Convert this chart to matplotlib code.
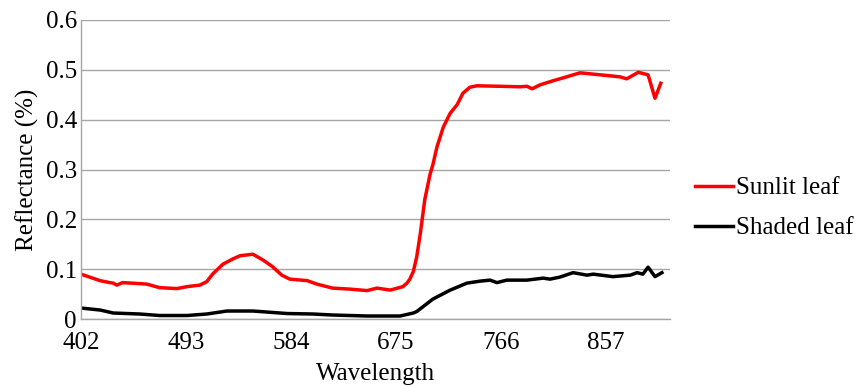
import matplotlib
matplotlib.use("Agg")
import matplotlib.pyplot as plt

sunlit_wl = [402, 418.5, 427, 430, 433, 438, 453, 459, 470, 485, 494, 505, 511, 516, 525,
             534, 540, 551, 560, 568, 576, 583, 598, 606.5, 620, 635, 650, 658.5, 670,
             681, 684.5, 687, 690, 693, 696, 700, 704.5, 707, 710.5, 716, 722, 728, 733,
             739, 745, 765, 782.5, 788.5, 793, 800, 811, 820, 834.5, 852, 869, 875, 885,
             893.5, 899.5, 904.5]
sunlit_val = [0.090, 0.077, 0.073, 0.072, 0.068, 0.073, 0.071, 0.070, 0.063, 0.061, 0.065,
              0.068, 0.075, 0.090, 0.110, 0.121, 0.127, 0.130, 0.118, 0.105, 0.088, 0.080,
              0.077, 0.070, 0.062, 0.060, 0.057, 0.062, 0.058, 0.065, 0.072, 0.080, 0.095,
              0.125, 0.170, 0.240, 0.290, 0.310, 0.345, 0.385, 0.413, 0.430, 0.453, 0.465,
              0.468, 0.467, 0.466, 0.467, 0.462, 0.470, 0.478, 0.484, 0.494, 0.490, 0.486,
              0.482, 0.495, 0.490, 0.443, 0.473]

shaded_wl = [402, 418.5, 430, 453, 470, 494, 511, 528.5, 551, 563, 580.5, 603, 620, 650,
             678.5, 690, 693, 707, 722, 736.5, 748, 756.5, 762.5, 771, 788.5, 802.5, 808.5,
             817, 828.5, 840.5, 846, 863, 878, 884, 889, 893.5, 899.5, 905.5]
shaded_val = [0.022, 0.018, 0.012, 0.010, 0.007, 0.007, 0.010, 0.016, 0.016, 0.014, 0.011,
              0.010, 0.008, 0.006, 0.006, 0.012, 0.015, 0.040, 0.058, 0.072, 0.076, 0.078,
              0.073, 0.078, 0.078, 0.082, 0.080, 0.084, 0.093, 0.088, 0.090, 0.085, 0.088,
              0.093, 0.090, 0.104, 0.085, 0.093]

xticks = [402, 493, 584, 675, 766, 857]
yticks = [0, 0.1, 0.2, 0.3, 0.4, 0.5, 0.6]
ytick_labels = ["0", "0.1", "0.2", "0.3", "0.4", "0.5", "0.6"]

plt.rcParams['font.family'] = ['Liberation Serif', 'DejaVu Serif']
fs = 18

fig = plt.figure(figsize=(8.58, 3.87), dpi=100)
ax = fig.add_axes([81/858, 1 - 319/387, 589/858, 299/387])

ax.plot(sunlit_wl, sunlit_val, color='#ff0000', lw=2.5, label='Sunlit leaf',
        solid_joinstyle='round')
ax.plot(shaded_wl, shaded_val, color='#000000', lw=2.5, label='Shaded leaf',
        solid_joinstyle='round')

ax.set_xlim(402, 912.5)
ax.set_ylim(0, 0.6)
ax.set_xticks(xticks)
ax.set_xticklabels([str(t) for t in xticks])
ax.set_yticks(yticks)
ax.set_yticklabels(ytick_labels)
ax.tick_params(axis='x', length=0, labelsize=fs, pad=9.5)
ax.tick_params(axis='y', length=0, labelsize=fs, pad=3)
ax.yaxis.grid(True, color='#a6a6a6', lw=1)
ax.set_axisbelow(True)
for s in ['top', 'right']:
    ax.spines[s].set_visible(False)
for s in ['left', 'bottom']:
    ax.spines[s].set_color('#a6a6a6')
    ax.spines[s].set_linewidth(1)

ax.set_xlabel('Wavelength', fontsize=fs, labelpad=6)
ax.set_ylabel('Reflectance (%)', fontsize=fs, labelpad=5)

fig.legend(loc='center left', bbox_to_anchor=(695/858, 1 - 208/387), frameon=False,
           fontsize=fs, handlelength=1.5, handletextpad=0.15, labelspacing=0.7,
           borderpad=0, borderaxespad=0)

fig.savefig('out.png', dpi=100)
